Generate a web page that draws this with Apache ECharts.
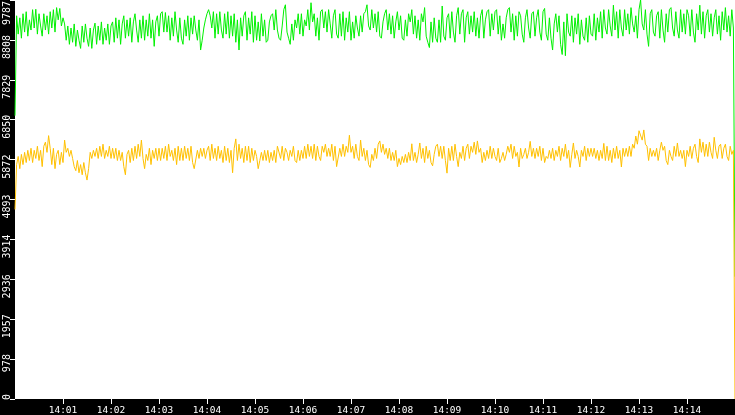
<!DOCTYPE html>
<html>
<head>
<meta charset="utf-8">
<style>
html,body{margin:0;padding:0;background:#000;}
#chart{width:735px;height:415px;}
</style>
<script src="https://cdn.jsdelivr.net/npm/echarts@6/dist/echarts.min.js"></script>
</head>
<body>
<div id="chart"></div>
<script>
// Sampled every 2 seconds from 14:00:00 to 14:15:00
var greenValues = [
6950,
9400,8950,9350,8850,9450,9000,9500,8900,9300,9050,9550,9100,9560,8950,9450,9150,8900,9450,9050,9400,8950,9500,9100,9550,9000,9600,9300,9580,9150,9350,
9200,8800,9150,8700,9100,8750,9200,8650,9050,8800,8600,9150,8750,9200,8850,8650,9100,8600,9050,9220,8700,9150,8800,9250,8700,9100,8800,9200,8700,9150,
9250,8750,9350,8850,9300,8700,9200,9400,8850,9300,8900,9350,8750,9250,9450,9050,8750,9300,8850,9400,8800,9300,8900,9450,8850,9300,8650,9250,9400,8900,
9450,9500,9000,9480,9000,9400,8800,9350,8900,9500,9050,8750,9350,8850,8700,9300,8900,9400,8800,9350,8950,9400,9050,8800,9300,8560,8800,9100,9300,9450,
9550,9400,9100,9500,8850,9450,8950,9500,9050,8850,9450,8950,9500,8850,9400,8900,9450,8750,9300,8560,9350,8900,9400,9500,8800,9350,8950,9500,8750,9400,
8800,9250,8780,9450,8900,9300,8750,8800,9250,9400,9450,9050,9550,9050,8850,8800,9150,9550,9670,9000,8850,8700,9200,8800,9300,9100,9450,8950,9450,8900,
9300,9150,9550,9050,9720,9250,9450,8900,9350,8800,9500,9550,9100,9500,9000,9550,9200,8850,9400,9550,8950,8850,9450,8900,9500,8800,9350,9000,9500,8800,
9250,8850,9400,9100,8900,9400,9000,9450,9500,9670,9150,9050,9550,9100,9450,9000,9500,8900,8850,9250,9450,9550,9050,9450,8950,9400,8850,9250,9500,9050,
9400,8850,8800,9300,8900,9450,9250,9550,8950,9400,8850,9300,8800,9450,9250,9600,8900,8750,8620,9250,8750,9350,8850,8750,9300,8750,9640,8900,8800,9350,
9450,8850,9500,9000,8750,9400,9600,8950,9450,9550,8750,9350,9500,8950,9400,9000,9500,8900,9350,8850,9400,9550,8850,9300,9500,9550,8900,9450,9050,9500,
9550,8950,9400,8800,9200,8850,9350,9550,9600,9000,9450,8800,9400,8900,9500,9400,8950,8750,9350,9550,9100,8850,9450,9500,8900,9350,9550,9000,8800,9500,
9580,8950,8800,9350,8850,8560,9200,9450,9000,9400,8700,8450,9250,8420,9450,9000,8900,9400,8750,9350,8950,9450,8700,9300,8900,8800,9350,8750,9400,8950,
8900,9450,8800,9350,9000,9500,8850,9550,9100,8950,9550,9150,8900,9660,9050,9500,8850,9550,9100,8900,9550,9050,9450,8950,9600,9200,9000,9400,8850,9550,
9787,9200,9050,9550,8950,8650,9450,9550,9000,8900,9400,9500,8850,9550,9050,8750,9450,9000,9550,9600,9100,8900,9500,9050,8850,9550,9000,9450,8950,9550,
9400,8900,9550,9000,8750,9450,9050,9660,8950,9500,8850,9400,9550,9000,9450,8900,9350,9550,8950,9400,8800,9500,9050,9600,9000,9400,8900,9550,9100,3000
];
var yellowValues = [
4650,
5750,5950,5650,6000,5750,6050,5800,6100,5850,6150,5800,6100,5900,6200,5850,6100,5700,6200,6300,6050,6460,6150,5750,6150,5650,6000,6100,5750,6050,5800,
6350,6050,6150,5950,6100,5900,5700,5600,5850,5550,5750,5500,5800,5550,5370,5650,6050,5900,6100,5950,6150,5900,6200,5950,6250,5900,6100,5950,6200,5900,
6150,5900,6150,5850,6100,5850,6050,5700,5500,6000,6100,5800,6150,5850,6200,5900,6250,5950,6350,5900,5650,6000,5850,6150,5750,6100,5900,6150,5850,6150,
5850,6150,5900,6200,5850,6250,5950,6100,5850,6150,5750,6200,5850,6150,5850,6200,5900,6150,5850,6200,5800,5650,5620,6100,5900,6150,5950,6150,5900,6100,
6200,5850,6250,5900,6150,5850,6200,5900,6100,5800,6200,5850,6150,5800,6100,5550,6150,6380,5850,6250,5900,6150,5800,6200,5850,6200,5800,6150,5850,6100,
5950,5650,5850,6050,5850,6100,5850,6100,5800,6050,5850,6100,5800,6200,6240,5900,6200,5850,6150,6050,5850,6100,5950,6200,5850,5800,6100,5850,6100,5900,
6200,5900,6250,5950,6200,5900,6250,5850,6200,5950,5850,6200,6050,6250,5950,6150,5950,6250,5850,6200,5700,5720,6150,5950,6250,5950,6200,6050,6470,6050,
6200,5900,6250,5950,5850,6350,5950,6150,5850,6100,5750,5680,6000,5850,6150,5900,6250,6330,6050,6250,6000,6150,5900,6150,5850,6050,5850,6100,5700,5900,
5750,5950,5800,6000,5800,6050,5850,6260,5850,6050,5800,6000,6280,5900,6150,5800,6200,5900,6100,5800,5720,6000,6200,6250,5950,6200,5900,6200,5850,5540,
6150,5850,6200,5850,6250,5950,5700,6050,5900,6200,5850,6150,6250,5900,6200,6050,6300,6000,6330,6050,6150,5800,6050,5850,6100,5900,6200,5900,6150,5950,
5850,6150,5800,5900,6050,5850,6000,6200,6050,6250,5900,6200,5950,6050,5690,6150,5900,6000,6150,5900,6050,6320,5950,6150,5900,6150,5950,6200,5850,6150,
5800,5950,5900,6100,5900,6150,5850,6100,5950,6200,5850,6150,5950,6250,5900,6100,5680,6000,6280,5900,6100,5950,5690,6100,5950,6200,5850,6150,5950,6150,
5950,6150,5900,6100,5850,6100,5900,6270,5850,6200,5850,6100,5800,6150,5900,6200,5900,6100,5690,6150,5950,6150,5950,6200,5950,6250,6150,6450,6250,6580,
6620,6350,6600,6250,6200,5850,6150,5950,6100,5950,6150,5850,6100,6300,6100,6200,5850,5750,6100,5950,5850,6200,5950,6280,5950,6100,5900,6100,5700,6100,
5950,6200,5900,6150,6250,5950,5800,6380,6050,6300,5950,6250,5950,6300,6050,5900,6420,6100,5900,6200,6250,5900,6150,6250,5950,5850,6200,6000,6100,0
];
var xTickLabels = ['14:01','14:02','14:03','14:04','14:05','14:06','14:07','14:08','14:09','14:10','14:11','14:12','14:13','14:14'];
var yMax = 9787;
var yStep = 978.7;

var n = Math.max(greenValues.length, yellowValues.length);
var categories = [];
for (var i = 0; i < n; i++) {
  var s = i * 2;
  var mm = Math.floor(s / 60), ss = s % 60;
  categories.push('14:' + (mm < 10 ? '0' : '') + mm + ':' + (ss < 10 ? '0' : '') + ss);
}
var perMin = 30;
function isTick(index) { return index % perMin === 0 && index > 0 && index < n - 1; }

var labelFont = { color: '#fff', fontFamily: 'DejaVu Sans Mono', fontSize: 10 };

var chart = echarts.init(document.getElementById('chart'));
chart.setOption({
  animation: false,
  backgroundColor: '#000',
  grid: { left: 15, right: 0, top: 0, bottom: 16, show: true, backgroundColor: '#fff', borderWidth: 0, containLabel: false, outerBoundsMode: 'none' },
  xAxis: {
    type: 'category',
    data: categories,
    boundaryGap: false,
    axisLine: { show: false },
    axisTick: { show: true, length: 5, interval: function (idx) { return isTick(idx); }, lineStyle: { color: '#fff', width: 1 } },
    axisLabel: {
      color: '#fff', fontFamily: 'DejaVu Sans Mono', fontSize: 9.5, margin: 7,
      interval: function (idx) { return isTick(idx); },
      formatter: function (v, idx) { return xTickLabels[idx / perMin - 1] || ''; }
    },
    splitLine: { show: false }
  },
  yAxis: {
    type: 'value',
    min: 0, max: yMax, interval: yStep,
    axisLine: { show: false },
    axisTick: { show: true, length: 5, lineStyle: { color: '#fff', width: 1 } },
    axisLabel: {
      color: '#fff', fontFamily: 'DejaVu Sans Mono', fontSize: 10, rotate: 90, margin: 8,
      align: 'right', verticalAlign: 'middle', padding: [0, -5, 0, 0],
      formatter: function (v) {
        var t = String(Math.floor(v + 1e-6));
        return v >= yMax - 1 ? '{top|' + t + '}' : t;
      },
      rich: {
        top: { color: '#fff', fontFamily: 'DejaVu Sans Mono', fontSize: 10, padding: [0, 6, 0, 0] }
      }
    },
    splitLine: { show: false }
  },
  series: [
    { type: 'line', data: greenValues, showSymbol: false, symbol: 'none', lineStyle: { color: '#00f000', width: 1 }, itemStyle: { color: '#00f000' } },
    { type: 'line', data: yellowValues, showSymbol: false, symbol: 'none', lineStyle: { color: '#ffc000', width: 1 }, itemStyle: { color: '#ffc000' } }
  ]
});
</script>
</body>
</html>
